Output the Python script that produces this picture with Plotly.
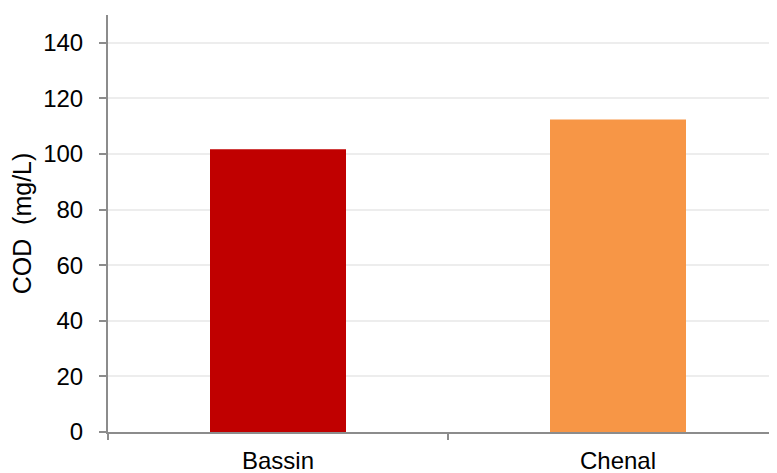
import plotly.graph_objects as go

categories = ["Bassin", "Chenal"]
cod_values = [101.7, 112.4]
bar_colors = ["#C00000", "#F79646"]
y_ticks = [0, 20, 40, 60, 80, 100, 120, 140]

fig = go.Figure(go.Bar(
    x=categories, y=cod_values, marker_color=bar_colors,
    marker_line_width=0, width=0.4,
))

# page body has an 8px margin, so the figure is offset by (8, 8)
fig.update_layout(
    width=777, height=465,
    margin=dict(l=100, r=0, t=7, b=41),
    paper_bgcolor="white", plot_bgcolor="white",
    font=dict(family="Liberation Sans, Arial", size=24, color="#000000"),
    showlegend=False,
)
fig.update_xaxes(
    type="category", range=[-0.5, -0.5 + 677 / 340], automargin=False,
    showline=True, linecolor="#8C8C8C", linewidth=2,
    ticks="outside", tickson="boundaries", ticklen=6, tickcolor="#8C8C8C", tickwidth=2,
    showgrid=False, tickfont=dict(size=24), ticklabelstandoff=6,
)
fig.update_yaxes(
    range=[0, 150], tickvals=y_ticks, automargin=False,
    showline=True, linecolor="#8C8C8C", linewidth=2,
    ticks="outside", ticklen=7, tickcolor="#8C8C8C", tickwidth=2,
    showgrid=True, gridcolor="#EDEDED", gridwidth=2,
    zeroline=False, tickfont=dict(size=24), ticklabelstandoff=11,
    title=dict(text="COD  (mg/L)", font=dict(size=25), standoff=12),
)

fig.write_html("out.html")
